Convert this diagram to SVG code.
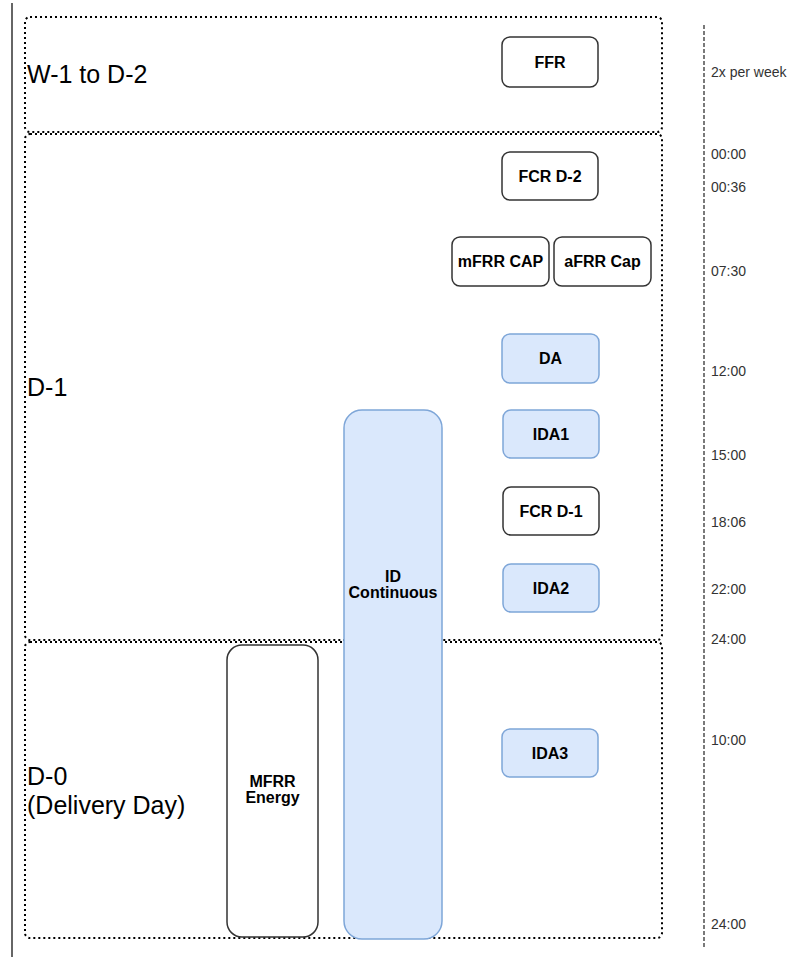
<svg xmlns="http://www.w3.org/2000/svg" width="792" height="957" viewBox="0 0 792 957">
<style>
.zone{fill:none;stroke:#000;stroke-width:2;stroke-dasharray:2 3}
.w{fill:#fff;stroke:#333;stroke-width:1.5}
.b{fill:#dae8fc;stroke:#7ea6d8;stroke-width:1.5}
.nt{font-family:"Liberation Sans",Arial,sans-serif;font-weight:bold;font-size:16px;fill:#000;text-anchor:middle}
.zt{font-family:"Liberation Sans",Arial,sans-serif;font-size:25px;fill:#000}
.tt{font-family:"Liberation Sans",Arial,sans-serif;font-size:14px;fill:#333}
</style>
<rect width="792" height="957" fill="#fff"/>
<g id="axis-lines">
<line x1="12" y1="3" x2="12" y2="957" stroke="#333" stroke-width="1.5"/>
<line x1="704" y1="25" x2="704" y2="949" stroke="#333" stroke-width="1.3" stroke-dasharray="4 2"/>
</g>
<g id="zone-w1">
<rect class="zone" x="25" y="17" width="637" height="115" rx="5"/>
<text class="zt" x="27" y="83">W-1 to D-2</text>
</g>
<g id="zone-d1">
<rect class="zone" x="25" y="134" width="637" height="506" rx="5"/>
<text class="zt" x="27" y="396">D-1</text>
</g>
<g id="zone-d0">
<rect class="zone" x="25" y="642" width="637" height="296" rx="5"/>
<text class="zt" x="27" y="785">D-0</text>
<text class="zt" x="27" y="814">(Delivery Day)</text>
</g>
<g id="connectors"></g>
<g id="ffr"><rect class="w" x="502" y="37" width="96" height="50" rx="8"/><text class="nt" x="550" y="68">FFR</text></g>
<g id="fcr-d2"><rect class="w" x="502" y="152" width="96" height="48" rx="8"/><text class="nt" x="550" y="182">FCR D-2</text></g>
<g id="mfrr-cap"><rect class="w" x="452" y="237" width="97" height="49" rx="8"/><text class="nt" x="500.5" y="267">mFRR CAP</text></g>
<g id="afrr-cap"><rect class="w" x="554" y="237" width="97" height="49" rx="8"/><text class="nt" x="602.5" y="267">aFRR Cap</text></g>
<g id="da"><rect class="b" x="502" y="334" width="97" height="49" rx="8"/><text class="nt" x="550.5" y="364">DA</text></g>
<g id="ida1"><rect class="b" x="503" y="410" width="96" height="48" rx="8"/><text class="nt" x="551" y="440">IDA1</text></g>
<g id="fcr-d1"><rect class="w" x="503" y="487" width="96" height="48" rx="8"/><text class="nt" x="551" y="517">FCR D-1</text></g>
<g id="ida2"><rect class="b" x="503" y="564" width="96" height="48" rx="8"/><text class="nt" x="551" y="594">IDA2</text></g>
<g id="ida3"><rect class="b" x="502" y="729" width="96" height="48" rx="8"/><text class="nt" x="550" y="759">IDA3</text></g>
<g id="mfrr-energy"><rect class="w" x="227" y="645" width="91" height="292" rx="15"/><text class="nt" x="272.5" y="787">MFRR</text><text class="nt" x="272.5" y="803">Energy</text></g>
<g id="id-continuous"><rect class="b" x="344" y="410" width="98" height="529" rx="18"/><text class="nt" x="393" y="582">ID</text><text class="nt" x="393" y="598">Continuous</text></g>
<g id="time-labels">
<text class="tt" x="711" y="77">2x per week</text>
<text class="tt" x="711" y="159">00:00</text>
<text class="tt" x="711" y="192">00:36</text>
<text class="tt" x="711" y="276">07:30</text>
<text class="tt" x="711" y="376">12:00</text>
<text class="tt" x="711" y="460">15:00</text>
<text class="tt" x="711" y="527">18:06</text>
<text class="tt" x="711" y="594">22:00</text>
<text class="tt" x="711" y="644">24:00</text>
<text class="tt" x="711" y="745">10:00</text>
<text class="tt" x="711" y="929">24:00</text>
</g>
</svg>
